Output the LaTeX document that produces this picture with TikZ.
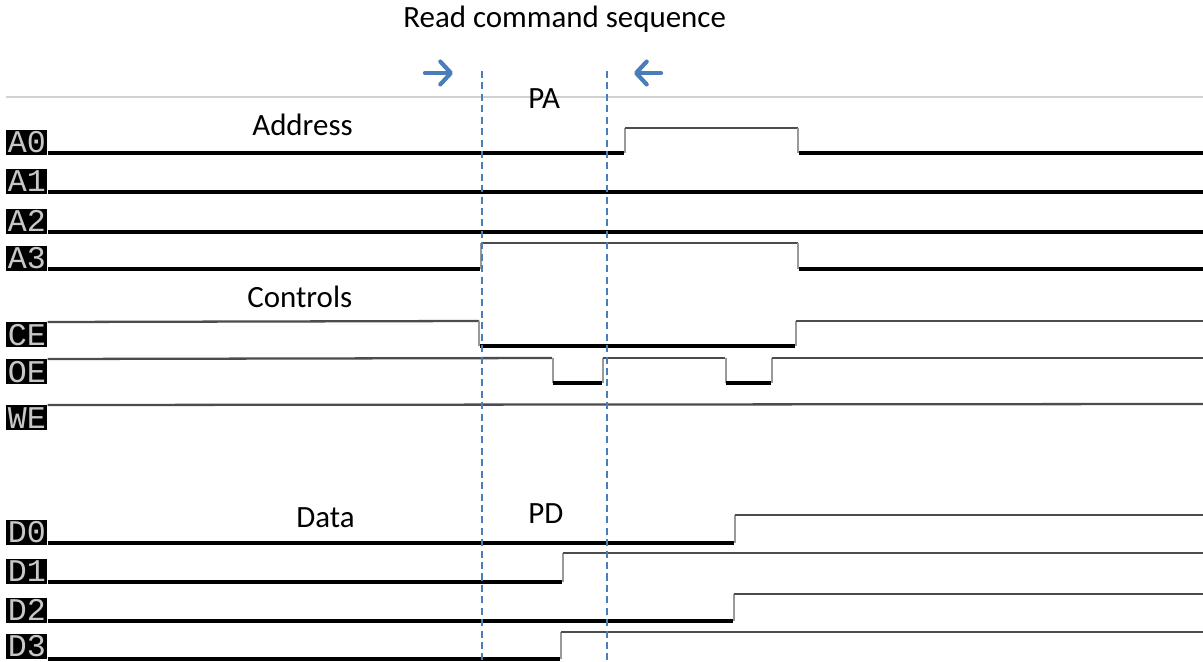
\documentclass[tikz,border=0pt]{standalone}
\usepackage{fontspec}
\setmainfont{Carlito}
\newfontfamily\pinfont{Liberation Mono}
\usetikzlibrary{arrows.meta}

\definecolor{cursor}{HTML}{4A7EBB}

\begin{document}
\begin{tikzpicture}[x={(0.02cm,0)}, y={(0,-0.02cm)},
  pin/.style={fill=black, text=black!22, inner sep=0pt, minimum width=0.82cm,
    minimum height=0.5cm, font=\pinfont\fontsize{18}{18}\selectfont},
  lo/.style={black, line width=2.1pt},
  hi/.style={black!70, line width=1.3pt},
  edge/.style={black!40, line width=1.1pt},
  cursorline/.style={cursor, line width=1.2pt, dash pattern=on 4pt off 2.5pt},
  cursorarrow/.style={cursor, line width=2.4pt, line cap=round,
    -{Straight Barb[length=6pt, width=13pt, round]}},
  title/.style={anchor=base west, inner sep=0pt, font=\fontsize{17.6}{20}\selectfont}]

\useasboundingbox (0,0) rectangle (1203,662);

% frame line of the capture
\draw[black!18, line width=0.6pt] (6,97) -- (1203,97);

% pin names
\node[pin, anchor=south west] (A0) at (6,155) {A0};
\node[pin, anchor=south west] (A1) at (6,194) {A1};
\node[pin, anchor=south west] (A2) at (6,234) {A2};
\node[pin, anchor=south west] (A3) at (6,271) {A3};
\node[pin, anchor=north west] (CE) at (6,322) {CE};
\node[pin, anchor=north west] (OE) at (6,359) {OE};
\node[pin, anchor=north west] (WE) at (6,405) {WE};
\node[pin, anchor=south west] (D0) at (6,545) {D0};
\node[pin, anchor=south west] (D1) at (6,584) {D1};
\node[pin, anchor=south west] (D2) at (6,623) {D2};
\node[pin, anchor=south west] (D3) at (6,659) {D3};

% address lines
\draw[lo] (A0.east |- 0,153) -- (624,153);
\draw[edge] (625,153) -- (625,128);
\draw[hi] (625,128) -- (798,128);
\draw[edge] (798,128) -- (798,153);
\draw[lo] (799,153) -- (1203,153);

\draw[lo] (A1.east |- 0,192) -- (1203,192);
\draw[lo] (A2.east |- 0,232) -- (1203,232);

\draw[lo] (A3.east |- 0,269) -- (480,269);
\draw[edge] (481,269) -- (481,243);
\draw[hi] (481,243) -- (798,243);
\draw[edge] (798,243) -- (798,269);
\draw[lo] (799,269) -- (1203,269);

% control lines
\draw[hi] (CE.north east) -- (479,321);
\draw[edge] (479,321) -- (479,346);
\draw[lo] (480,346) -- (795,346);
\draw[edge] (796,346) -- (796,321);
\draw[hi] (796,321) -- (1203,321);

\draw[hi] (OE.north east) -- (552,358);
\draw[edge] (553,358) -- (553,383);
\draw[lo] (553,383) -- (602,383);
\draw[edge] (603,383) -- (603,358);
\draw[hi] (603,358) -- (725,358);
\draw[edge] (726,358) -- (726,383);
\draw[lo] (726,383) -- (771,383);
\draw[edge] (772,383) -- (772,358);
\draw[hi] (772,358) -- (1203,358);

\draw[hi] (WE.north east) -- (1203,404);

% data lines
\draw[lo] (D0.east |- 0,543) -- (734,543);
\draw[edge] (735,543) -- (735,515);
\draw[hi] (735,515) -- (1203,515);

\draw[lo] (D1.east |- 0,582) -- (562,582);
\draw[edge] (563,582) -- (563,553);
\draw[hi] (563,553) -- (1203,553);

\draw[lo] (D2.east |- 0,621) -- (733,621);
\draw[edge] (734,621) -- (734,594);
\draw[hi] (734,594) -- (1203,594);

\draw[lo] (D3.east |- 0,659) -- (560,659);
\draw[edge] (561,659) -- (561,632);
\draw[hi] (561,632) -- (1203,632);

% read cycle markers
\coordinate (c1) at (482,71);
\coordinate (c2) at (607,71);
\draw[cursorline] (c1) -- (c1 |- 0,662);
\draw[cursorline] (c2) -- (c2 |- 0,662);
\draw[cursorarrow] (425,73) -- (453,73);
\draw[cursorarrow] (661,73) -- (634,73);

\node[title] (seq) at (403,28) {Read command sequence};
\node[title] (pa) at (528,109) {PA};
\node[title] (pd) at (528,523) {PD};
\node[title] (addr) at (252,136) {Address};
\node[title] (ctrl) at (247,307) {Controls};
\node[title] (data) at (296,527) {Data};

\end{tikzpicture}
\end{document}
